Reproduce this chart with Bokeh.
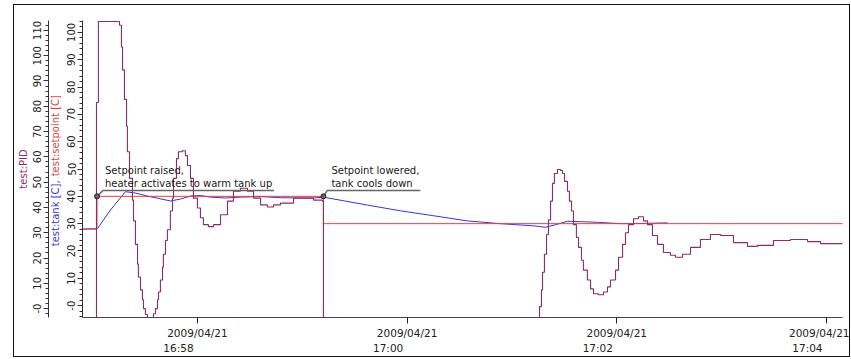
from math import pi
import pandas as pd
from bokeh.plotting import figure
from bokeh.models import (Range1d, DatetimeAxis, SingleIntervalTicker, FixedTicker,
                          Label, Row, DatetimeTickFormatter)
from bokeh.embed import file_html
from bokeh.resources import INLINE

# ---------------- data (seconds relative to 2009/04/21 16:58:00) ----------------
BASE_TIME = "2009-04-21 16:58:00"

setpoint_sec = [-66.0, -57.5, 72.1, 369.5]
setpoint_val = [28.0, 40.0, 30.0, 30.0]

tank_sec = [-66.0, -57.2, -49.8, -41.2, -35.5, -28.6, -15.5, -9.7, -4.0, 1.7,
            7.4, 16.0, 24.6, 36.1, 47.5, 59.0, 66.4, 72.1, 97.3, 116.2,
            135.1, 154.5, 173.4, 192.3, 199.2, 204.9, 211.8, 229.0, 242.1, 256.4,
            269.0]
tank_val = [28.0, 28.2, 35.0, 41.7, 41.2, 40.1, 38.3, 39.0, 40.1, 40.3,
            39.7, 39.4, 39.7, 39.9, 39.5, 39.4, 39.4, 39.7, 36.8, 34.7,
            32.9, 31.0, 30.0, 29.2, 28.7, 29.6, 30.9, 30.5, 30.0, 30.1,
            30.3]

pid_sec = [-65.8, -57.8, -56.7, -44.6, -43.5, -42.9, -41.8, -40.6, -40.1, -38.9,
           -37.2, -36.6, -35.5, -34.3, -33.8, -32.6, -31.5, -30.9, -29.8, -28.6,
           -25.2, -24.0, -22.9, -22.3, -21.2, -20.0, -19.5, -18.3, -17.2, -15.5,
           -14.3, -13.7, -12.0, -10.9, -8.6, -6.9, -5.7, -4.0, -2.3, 0.0,
           1.7, 3.4, 6.3, 9.2, 13.2, 17.2, 20.6, 24.6, 28.6, 32.1,
           36.1, 40.1, 43.5, 47.5, 55.0, 60.7, 66.4, 71.5, 72.1, 195.8,
           196.9, 197.5, 198.6, 199.8, 200.9, 202.1, 203.2, 204.3, 206.1, 207.8,
           208.9, 210.1, 211.8, 212.9, 214.1, 215.2, 216.9, 218.1, 219.8, 220.9,
           223.2, 225.0, 226.7, 229.5, 232.4, 234.7, 236.4, 239.3, 241.0, 243.3,
           245.0, 246.7, 249.6, 252.4, 255.3, 257.6, 260.4, 263.3, 266.7, 270.7,
           273.6, 277.6, 282.2, 287.9, 293.6, 299.4, 306.8, 314.8, 320.5, 329.7,
           339.4, 349.2, 356.6, 364.0, 369.2]
pid_val = [-3.5, 81.5, 113.5, 112.0, 103.4, 94.4, 82.7, 72.2, 62.0, 51.5,
           42.9, 34.7, 25.4, 17.6, 12.5, 7.4, 3.5, 0.0, -2.3, -3.5,
           -2.0, 0.0, 3.5, 6.6, 11.3, 16.4, 21.5, 26.9, 31.2, 38.6,
           43.7, 51.5, 59.3, 62.0, 62.4, 60.5, 56.6, 51.5, 43.7, 39.8,
           35.9, 33.2, 32.4, 33.2, 37.1, 42.5, 46.4, 47.6, 46.4, 43.7,
           41.0, 40.2, 41.0, 41.7, 43.7, 43.7, 42.9, 42.5, -3.5, 0.8,
           7.4, 14.4, 21.5, 29.3, 35.1, 42.5, 49.5, 53.4, 55.0, 54.6,
           53.4, 50.3, 46.4, 42.5, 38.6, 33.2, 28.1, 24.2, 19.1, 15.2,
           11.3, 7.8, 5.9, 5.5, 6.6, 8.6, 11.3, 15.2, 20.3, 25.4,
           30.0, 33.2, 35.5, 36.3, 34.7, 33.2, 28.9, 25.4, 22.2, 21.1,
           20.3, 21.5, 24.2, 27.3, 29.3, 28.9, 26.1, 24.6, 25.0, 26.9,
           27.3, 26.5, 25.7, 25.7, 26.1]

x_tick_sec = [0, 120, 240, 360]
x_tick_time = ["16:58", "17:00", "17:02", "17:04"]

ann_sec = [-57.5, 72.1]
ann_val = [40.0, 40.0]
ann_text = ["Setpoint raised,\nheater activates to warm tank up",
            "Setpoint lowered,\ntank cools down"]

# ---------------- helpers / layout constants ----------------
BASE_MS = pd.Timestamp(BASE_TIME).value / 1e6


def ms(secs):
    return [BASE_MS + s * 1000.0 for s in secs]


X0, X1 = -65.8, 369.2
TANK_LO, TANK_HI = -4.33, 104.33
PID_LO, PID_HI = -3.51, 113.9
FRAME_W, FRAME_H = 760, 301
MS_PER_PX = (X1 - X0) * 1000.0 / FRAME_W
V_PER_PX = (TANK_HI - TANK_LO) / FRAME_H
PID_PER_PX = (PID_HI - PID_LO) / FRAME_H

H = 351
TOP, BOTTOM = 15, 35

FONT = "DejaVu Sans"
PID_COLOR = "#962a60"
TANK_COLOR = "#3535e0"
SP_COLOR = "#f23c3c"
INK = "#222222"


def style_y_axis(ax):
    ax.ticker = SingleIntervalTicker(interval=10, num_minor_ticks=5)
    ax.major_label_overrides = {0: "-0"}
    ax.major_label_orientation = "vertical"
    ax.major_tick_out = 5
    ax.major_tick_in = 0
    ax.minor_tick_out = 3
    ax.minor_tick_in = 0
    ax.major_label_standoff = 2
    ax.major_label_text_font = FONT
    ax.major_label_text_font_size = "10px"
    ax.major_label_text_color = INK
    ax.axis_line_color = "#333333"
    ax.major_tick_line_color = "#333333"
    ax.minor_tick_line_color = "#333333"


# ---------------- left strip: PID axis + two-coloured axis title ----------------
a = figure(width=48, height=H, x_range=Range1d(0, 15), y_range=Range1d(PID_LO, PID_HI),
           x_axis_location=None, output_backend="svg", toolbar_location=None,
           min_border_left=33, min_border_right=0, min_border_top=TOP,
           min_border_bottom=BOTTOM)
a.outline_line_color = None
a.xgrid.visible = False
a.ygrid.visible = False
pa = a.yaxis[0]
style_y_axis(pa)
pa.axis_label = "test:PID"
pa.axis_label_text_color = PID_COLOR
pa.axis_label_text_font = FONT
pa.axis_label_text_font_size = "10px"
pa.axis_label_text_font_style = "normal"
pa.axis_label_standoff = 2

split_pid = PID_LO + (FRAME_H - (181 - 20)) * PID_PER_PX
a.add_layout(Label(x=8, y=split_pid, y_offset=-1, text="test:tank [C],", angle=pi / 2,
                   text_align="right", text_baseline="middle", text_font=FONT,
                   text_font_size="10px", text_color="#3a3ad0"))
a.add_layout(Label(x=8, y=split_pid, y_offset=3, text="test:setpoint [C]", angle=pi / 2,
                   text_align="left", text_baseline="middle", text_font=FONT,
                   text_font_size="10px", text_color="#f03c3c"))

# ---------------- main plot ----------------
p = figure(width=787, height=H, x_axis_type="datetime",
           x_range=Range1d(BASE_MS + X0 * 1000, BASE_MS + X1 * 1000),
           y_range=Range1d(TANK_LO, TANK_HI),
           output_backend="svg", toolbar_location=None,
           min_border_left=20, min_border_right=7, min_border_top=TOP,
           min_border_bottom=BOTTOM)
p.extra_y_ranges = {"pid": Range1d(PID_LO, PID_HI)}
p.outline_line_color = None
p.xgrid.visible = False
p.ygrid.visible = False

style_y_axis(p.yaxis[0])

date_fmt = "%Y/%m/%d"
xa = p.xaxis[0]
xa.ticker = FixedTicker(ticks=ms(x_tick_sec))
xa.formatter = DatetimeTickFormatter(seconds=date_fmt, minsec=date_fmt, minutes=date_fmt,
                                     hourmin=date_fmt, hours=date_fmt)
xa.major_tick_out = 6
xa.major_tick_in = 0
xa.minor_tick_out = 0
xa.major_label_standoff = 3
xa.major_label_text_font = FONT
xa.major_label_text_font_size = "10.5px"
xa.major_label_text_color = INK
xa.axis_line_color = "#444444"
xa.major_tick_line_color = "#222222"

# second row of tick labels (time of day), left aligned under the date
shift_ms = 19 * MS_PER_PX
t2 = [int(round(t - shift_ms)) for t in ms(x_tick_sec)]
xb = DatetimeAxis(ticker=FixedTicker(ticks=t2),
                  major_label_overrides={t: s for t, s in zip(t2, x_tick_time)})
xb.major_tick_out = 0
xb.major_tick_in = 0
xb.minor_tick_out = 0
xb.axis_line_color = None
xb.major_label_standoff = 0
xb.major_label_text_font = FONT
xb.major_label_text_font_size = "10.5px"
xb.major_label_text_color = INK
p.add_layout(xb, "below")

# series
p.line(ms(tank_sec), tank_val, line_color=TANK_COLOR, line_width=1.0)
p.step(ms(setpoint_sec), setpoint_val, mode="after", line_color=SP_COLOR, line_width=1.0)
p.step(ms(pid_sec), pid_val, mode="after", line_color=PID_COLOR, line_width=1.1,
       y_range_name="pid")

# callout annotations
lead_start = [6, 4]
lead_len = [177, 97]
for a_s, a_v, txt, ls, ll in zip(ann_sec, ann_val, ann_text, lead_start, lead_len):
    a_x = BASE_MS + a_s * 1000.0
    up = a_v + 6 * V_PER_PX
    p.line([a_x, a_x + ls * MS_PER_PX, a_x + ll * MS_PER_PX], [a_v, up, up],
           line_color="#666666", line_width=1.5)
    p.scatter([a_x], [a_v], size=5, fill_color="#666666", line_color="#222222")
    p.add_layout(Label(x=a_x, y=a_v, x_offset=8, y_offset=7, text=txt,
                       text_align="left", text_baseline="bottom",
                       text_font=FONT, text_font_size="10px",
                       text_line_height=1.25, text_color="#1a1a1a"))

layout = Row(children=[a, p], spacing=0, margin=(4, 0, 0, 13),
             styles={"border": "1px solid #111111"})

open("out.html", "w").write(file_html(layout, INLINE))
